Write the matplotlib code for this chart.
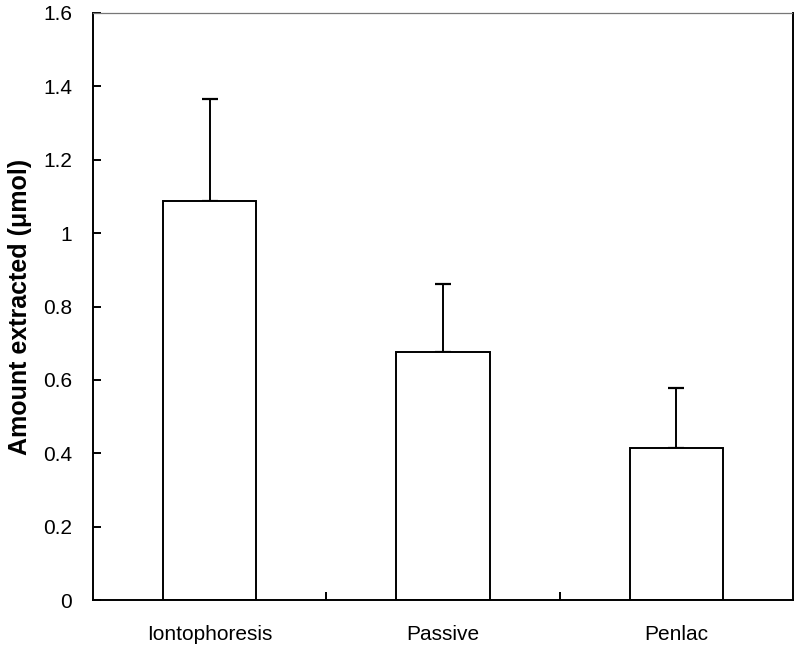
import matplotlib
matplotlib.use("Agg")
import matplotlib.pyplot as plt
from matplotlib.ticker import FixedLocator

categories = ["Iontophoresis", "Passive", "Penlac"]
values = [1.087, 0.676, 0.414]
errors = [0.278, 0.185, 0.164]
yticks = [0, 0.2, 0.4, 0.6, 0.8, 1.0, 1.2, 1.4, 1.6]
ytick_labels = ["0", "0.2", "0.4", "0.6", "0.8", "1", "1.2", "1.4", "1.6"]

plt.rcParams['font.family'] = ['Liberation Sans', 'DejaVu Sans']

fig = plt.figure(figsize=(7.98, 6.48), dpi=100)
ax = fig.add_axes([93/798, 48/648, 700/798, 587/648])

x = list(range(len(categories)))
ax.bar(x, values, width=0.40, color="white", edgecolor="black", linewidth=1.4, zorder=2)
ax.errorbar(x, values, yerr=[[0]*len(values), errors], fmt="none", ecolor="black",
            elinewidth=1.4, capsize=5.5, capthick=1.6, zorder=1)

ax.set_xlim(-0.5, 2.5)
ax.set_ylim(0, 1.6)
ax.set_yticks(yticks)
ax.set_yticklabels(ytick_labels)
ax.set_xticks(x)
ax.set_xticklabels(categories)
ax.xaxis.set_minor_locator(FixedLocator([0.5, 1.5]))

ax.tick_params(axis="y", direction="in", length=6, width=1.4, labelsize=15, pad=15)
ax.tick_params(axis="x", which="major", length=0, labelsize=15, pad=18)
ax.tick_params(axis="x", which="minor", direction="in", length=6, width=1.4)

for s in ["left", "bottom", "right"]:
    ax.spines[s].set_linewidth(1.4)
    ax.spines[s].set_color("black")
ax.spines["top"].set_linewidth(0.9)
ax.spines["top"].set_color("#777777")
ax.spines["top"].set_linestyle((0, (1, 1)))

ax.set_ylabel("Amount extracted (μmol)", fontsize=18, fontweight="bold", labelpad=8)

fig.savefig("out.png", dpi=100)
